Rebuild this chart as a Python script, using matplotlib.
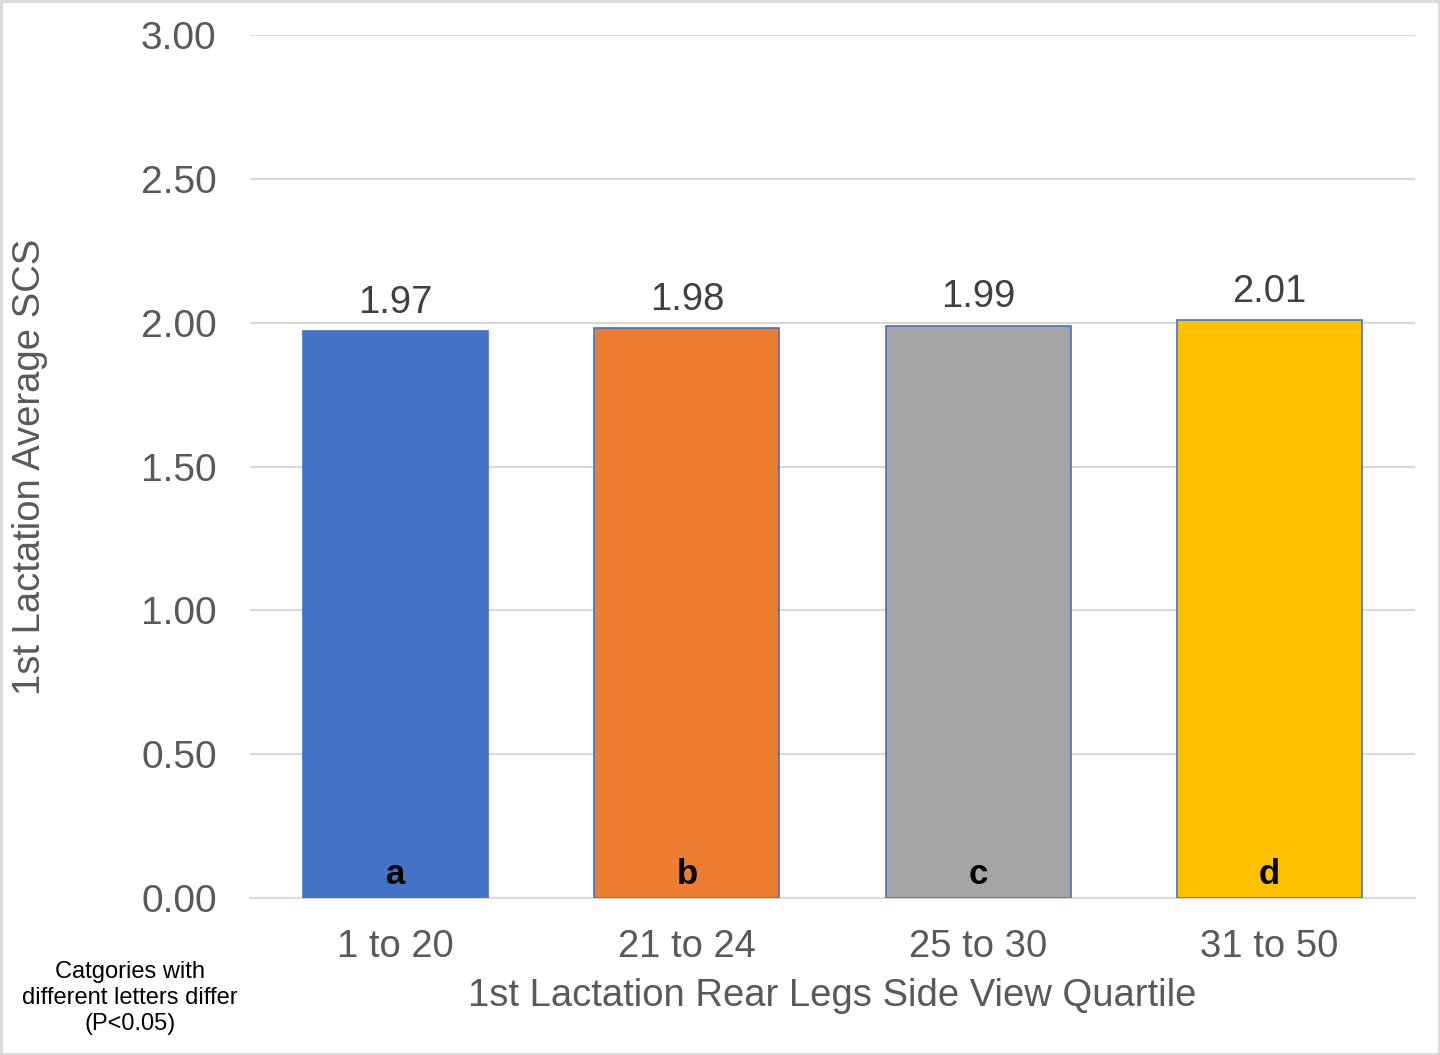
import matplotlib.pyplot as plt
import numpy as np

plt.rcParams['font.family'] = ['Liberation Sans', 'DejaVu Sans']

categories = ["1 to 20", "21 to 24", "25 to 30", "31 to 50"]
scs = [1.97, 1.98, 1.99, 2.01]
letters = ["a", "b", "c", "d"]
colors = ["#4472C4", "#ED7D31", "#A5A5A5", "#FFC000"]
yticks = [0.0, 0.5, 1.0, 1.5, 2.0, 2.5, 3.0]

txt = "#595959"

fig = plt.figure(figsize=(14.4, 10.55), dpi=100)
ax = fig.add_axes([250/1440, 1 - 898/1055, 1165/1440, 863/1055])

x = np.arange(len(categories))
bars = ax.bar(x, scs, width=0.636, color=colors, edgecolor="#4472C4",
              linewidth=1.2, zorder=3)

for xi, v, l in zip(x, scs, letters):
    ax.text(xi, v + 0.035, f"{v:.2f}", ha="center", va="bottom",
            fontsize=27.5, color="#404040")
    ax.text(xi, 0.025, l, ha="center", va="bottom", fontsize=25,
            fontweight="bold", color="black", zorder=4)

ax.set_xlim(-0.5, len(categories) - 0.5)
ax.set_ylim(0, 3.0)
ax.set_yticks(yticks)
ax.set_yticklabels([f"{t:.2f}" for t in yticks])
ax.set_xticks(x)
ax.set_xticklabels(categories)
ax.tick_params(axis="y", length=0, labelsize=28, labelcolor=txt, pad=24)
ax.tick_params(axis="x", length=0, labelsize=27.5, labelcolor=txt, pad=22)
ax.grid(axis="y", color="#D9D9D9", linewidth=1.5, zorder=0)
for s in ["top", "right", "left"]:
    ax.spines[s].set_visible(False)
ax.spines["bottom"].set_color("#D9D9D9")
ax.spines["bottom"].set_linewidth(1.5)

ax.set_xlabel("1st Lactation Rear Legs Side View Quartile", fontsize=27.5,
              color=txt, labelpad=10)
ax.set_ylabel("1st Lactation Average SCS", fontsize=27.5, color=txt)
ax.yaxis.set_label_coords(-0.173, 0.5)

fig.text(130/1440, 1 - 998/1055, "Catgories with\ndifferent letters differ\n(P<0.05)",
         ha="center", va="center", fontsize=17, color="black", linespacing=1.22)

# light border around the figure
fig.patches.append(plt.Rectangle((0.001, 0.001), 0.998, 0.998, transform=fig.transFigure,
                                 fill=False, edgecolor="#D9D9D9", linewidth=2))

fig.savefig("out.png", dpi=100)
